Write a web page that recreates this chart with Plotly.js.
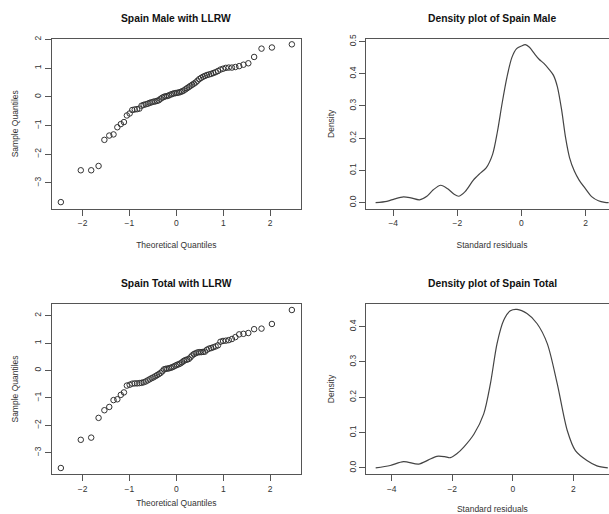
<!DOCTYPE html>
<html>
<head>
<meta charset="utf-8">
<script src="https://cdn.plot.ly/plotly-3.0.1.min.js"></script>
<style>
html, body { margin: 0; padding: 0; overflow: hidden; background: #fff; }
#chart { width: 620px; height: 514px; }
</style>
</head>
<body>
<div id="chart"></div>
<script>
// Theoretical normal quantiles (72 residuals)
const theoretical = [-2.462,-2.037,-1.815,-1.658,-1.534,-1.430,-1.339,-1.258,-1.184,-1.117,-1.055,-0.995,-0.940,-0.887,-0.837,-0.788,-0.742,-0.697,-0.653,-0.610,-0.569,-0.528,-0.489,-0.450,-0.411,-0.374,-0.337,-0.300,-0.264,-0.228,-0.193,-0.157,-0.122,-0.087,-0.052,-0.017,
0.017,0.052,0.087,0.122,0.157,0.193,0.228,0.264,0.300,0.337,0.374,0.411,0.450,0.489,0.528,0.569,0.610,0.653,0.697,0.742,0.788,0.837,0.887,0.940,0.995,1.055,1.117,1.184,1.258,1.339,1.430,1.534,1.658,1.815,2.037,2.462];

// Sample quantiles, Spain Male
const maleSample = [-3.67,-2.56,-2.56,-2.41,-1.50,-1.35,-1.31,-1.06,-0.95,-0.88,-0.65,-0.58,-0.46,-0.44,-0.43,-0.41,-0.31,-0.28,-0.26,-0.24,-0.21,-0.19,-0.17,-0.16,-0.14,-0.12,-0.07,-0.03,0.00,0.02,0.03,0.05,0.08,0.10,0.12,0.13,
0.14,0.15,0.17,0.19,0.22,0.26,0.30,0.34,0.38,0.42,0.46,0.50,0.56,0.62,0.66,0.70,0.73,0.76,0.78,0.80,0.83,0.86,0.90,0.95,0.98,1.01,1.02,1.02,1.04,1.07,1.12,1.17,1.39,1.68,1.72,1.83];

// Sample quantiles, Spain Total
const totalSample = [-3.56,-2.53,-2.45,-1.73,-1.45,-1.33,-1.08,-1.05,-0.89,-0.80,-0.55,-0.52,-0.48,-0.47,-0.47,-0.46,-0.45,-0.43,-0.40,-0.36,-0.32,-0.28,-0.25,-0.21,-0.17,-0.13,-0.09,-0.03,0.04,0.06,0.07,0.08,0.10,0.12,0.15,0.18,
0.21,0.23,0.26,0.30,0.35,0.38,0.40,0.42,0.48,0.55,0.60,0.63,0.66,0.67,0.67,0.68,0.69,0.76,0.80,0.82,0.85,0.88,0.92,1.05,1.08,1.09,1.11,1.15,1.22,1.32,1.34,1.37,1.51,1.53,1.70,2.21];

// Density curve, Spain Male
const maleDensX = [-4.55,-4.2,-3.95,-3.68,-3.45,-3.18,-2.95,-2.75,-2.52,-2.3,-2.1,-1.95,-1.75,-1.5,-1.3,-1.1,-0.9,-0.75,-0.6,-0.45,-0.3,-0.15,0.0,0.12,0.25,0.4,0.55,0.7,0.85,1.0,1.12,1.25,1.38,1.5,1.65,1.8,2.0,2.2,2.4,2.6,2.72];
const maleDensY = [0.000,0.004,0.012,0.018,0.015,0.009,0.020,0.040,0.054,0.043,0.026,0.020,0.035,0.070,0.090,0.108,0.150,0.220,0.310,0.390,0.450,0.478,0.486,0.490,0.482,0.463,0.445,0.432,0.415,0.395,0.360,0.290,0.200,0.140,0.098,0.070,0.043,0.018,0.006,0.001,0.000];

// Density curve, Spain Total
const totalDensX = [-4.53,-4.05,-3.61,-3.11,-2.8,-2.51,-2.25,-2.06,-1.85,-1.62,-1.28,-0.96,-0.74,-0.52,-0.30,-0.08,0.14,0.47,0.80,1.14,1.47,1.80,2.07,2.45,2.78,3.14];
const totalDensY = [0.000,0.007,0.018,0.011,0.022,0.033,0.032,0.029,0.040,0.059,0.096,0.153,0.238,0.352,0.418,0.445,0.449,0.437,0.409,0.352,0.238,0.106,0.049,0.021,0.006,0.000];

const titles = ["Spain Male with LLRW", "Density plot of Spain Male", "Spain Total with LLRW", "Density plot of Spain Total"];
const xTitles = ["Theoretical Quantiles", "Standard residuals"];
const yTitles = ["Sample Quantiles", "Density"];

const FONT = "Liberation Sans, Arial, Helvetica, sans-serif";
const W = 620, H = 514;
const ptColor = "#333333", lineColor = "#444444", boxColor = "#555555";

const traces = [
  {x: theoretical, y: maleSample, xaxis: "x", yaxis: "y", mode: "markers", type: "scatter",
   marker: {symbol: "circle-open", size: 5.5, color: ptColor, line: {width: 1, color: ptColor}}},
  {x: maleDensX, y: maleDensY, xaxis: "x2", yaxis: "y2", mode: "lines", type: "scatter",
   line: {color: lineColor, width: 1.2, shape: "spline", smoothing: 0.8}},
  {x: theoretical, y: totalSample, xaxis: "x3", yaxis: "y3", mode: "markers", type: "scatter",
   marker: {symbol: "circle-open", size: 5.5, color: ptColor, line: {width: 1, color: ptColor}}},
  {x: totalDensX, y: totalDensY, xaxis: "x4", yaxis: "y4", mode: "lines", type: "scatter",
   line: {color: lineColor, width: 1.2, shape: "spline", smoothing: 0.8}}
];

function xax(domain, range, dtick, title, anchor, standoff) {
  return {domain: domain, range: range, dtick: dtick, tick0: 0, anchor: anchor,
    showgrid: false, zeroline: false, showline: true, mirror: true, linecolor: boxColor, linewidth: 1,
    ticks: "outside", ticklen: 6, tickwidth: 1, tickcolor: boxColor,
    tickfont: {family: FONT, size: 8.5, color: "#333"},
    title: {text: title, font: {family: FONT, size: 8.5, color: "#333"}, standoff: standoff},
    automargin: false, fixedrange: true};
}
function yax(domain, range, dtick, fmt, title, anchor, standoff) {
  return {domain: domain, range: range, dtick: dtick, tick0: 0, anchor: anchor, tickformat: fmt,
    showgrid: false, zeroline: false, showline: true, mirror: true, linecolor: boxColor, linewidth: 1,
    ticks: "outside", ticklen: 6, tickwidth: 1, tickcolor: boxColor, tickangle: -90,
    tickfont: {family: FONT, size: 8.5, color: "#333"},
    title: {text: title, font: {family: FONT, size: 8.5, color: "#333"}, standoff: standoff},
    automargin: false, fixedrange: true};
}

const leftX = [51.7 / W, 301 / W];
const rightXm = [366.3 / W, 617.6 / W];
const rightXt = [366.3 / W, 618.4 / W];
const topY = [1 - 209 / H, 1 - 38.6 / H];
const botY = [1 - 474.3 / H, 1 - 303.7 / H];

const layout = {
  width: W, height: H, margin: {l: 0, r: 0, t: 0, b: 0},
  paper_bgcolor: "#fff", plot_bgcolor: "#fff", showlegend: false,
  font: {family: FONT, color: "#222"},
  xaxis: xax(leftX, [-2.657, 2.657], 1, xTitles[0], "y", 14.7),
  yaxis: yax(topY, [-3.91, 2.03], 1, "d", yTitles[0], "x", 13),
  xaxis2: xax(rightXm, [-4.84, 3.0], 2, xTitles[1], "y2", 14.7),
  yaxis2: yax(topY, [-0.0196, 0.509], 0.1, ".1f", yTitles[1], "x2", 11),
  xaxis3: xax(leftX, [-2.657, 2.657], 1, xTitles[0], "y3", 7),
  yaxis3: yax(botY, [-3.79, 2.44], 1, "d", yTitles[0], "x3", 13),
  xaxis4: xax(rightXt, [-4.84, 3.49], 2, xTitles[1], "y4", 15.5),
  yaxis4: yax(botY, [-0.018, 0.465], 0.1, ".1f", yTitles[1], "x4", 11),
  annotations: [
    {text: "<b>" + titles[0] + "</b>", x: 176.3 / W, y: 1 - 18.3 / H},
    {text: "<b>" + titles[1] + "</b>", x: 492 / W, y: 1 - 18.3 / H},
    {text: "<b>" + titles[2] + "</b>", x: 176.3 / W, y: 1 - 283 / H},
    {text: "<b>" + titles[3] + "</b>", x: 492.5 / W, y: 1 - 283 / H}
  ].map(a => Object.assign(a, {xref: "paper", yref: "paper", xanchor: "center", yanchor: "middle",
    showarrow: false, font: {family: FONT, size: 10.3, color: "#111"}}))
};

Plotly.newPlot("chart", traces, layout, {staticPlot: true, displayModeBar: false});
</script>
</body>
</html>
